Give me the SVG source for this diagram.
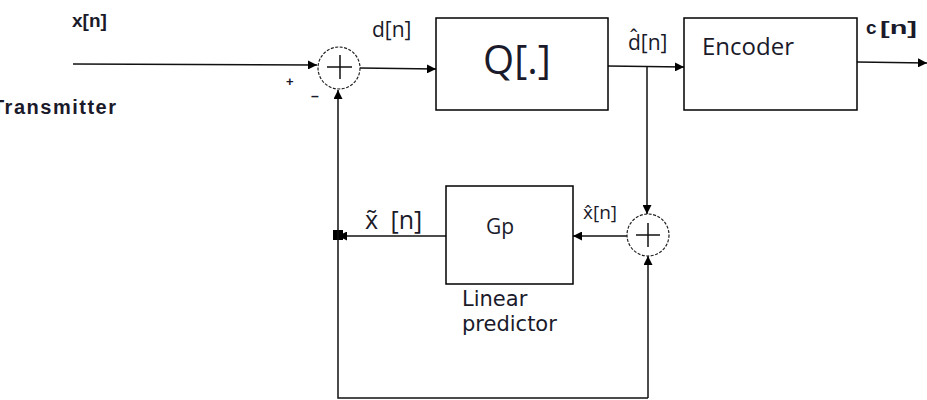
<svg xmlns="http://www.w3.org/2000/svg" width="927" height="400" viewBox="0 0 927 400">
<defs>
<marker id="arr" viewBox="0 0 10 10" refX="10" refY="5" markerWidth="9" markerHeight="9" markerUnits="userSpaceOnUse" orient="auto"><path d="M0,0 L10,5 L0,10 z" fill="#000"/></marker>
</defs>
<style>
.box{fill:#fff;stroke:#000;stroke-width:1.5}
.sum{fill:#fff;stroke:#222;stroke-width:1.2;stroke-dasharray:3 1.5}
.ln{fill:none;stroke:#111;stroke-width:1.5}
.t{font-family:"Open Sans","Noto Sans",sans-serif;fill:#1a1a2a}
.v{font-family:"DejaVu Sans","Noto Sans",sans-serif;fill:#1a1a2a}
.b{font-family:"Liberation Sans",Arial,sans-serif;font-weight:bold;fill:#1a1a2a}
</style>
<rect width="927" height="400" fill="#fff"/>
<g id="connectors">
<line class="ln" x1="73" y1="64" x2="317" y2="65" marker-end="url(#arr)"/>
<line class="ln" x1="360" y1="68" x2="436" y2="69" marker-end="url(#arr)"/>
<line class="ln" x1="608" y1="66" x2="684" y2="67" marker-end="url(#arr)"/>
<line class="ln" x1="857" y1="62" x2="927" y2="63" marker-end="url(#arr)"/>
<line class="ln" x1="647" y1="66" x2="647" y2="214" marker-end="url(#arr)"/>
<line class="ln" x1="627" y1="236" x2="573" y2="236" marker-end="url(#arr)"/>
<line class="ln" x1="452" y1="236" x2="338" y2="236" marker-end="url(#arr)"/>
<rect x="333" y="230" width="10" height="10" fill="#000"/>
<polyline class="ln" points="648,398 648,380 648,256" marker-end="url(#arr)"/>
<polyline class="ln" points="648,398 338,398 338,90" marker-end="url(#arr)"/>
</g>
<g id="sum1">
<circle class="sum" cx="339" cy="68" r="21"/>
<path class="ln" d="M327,67 H352 M340,55 V79"/>
<text class="b" x="286" y="86" font-size="13">+</text>
<text class="b" x="311" y="101" font-size="14">–</text>
</g>
<g id="quantizer">
<rect class="box" x="436" y="18" width="172" height="92"/>
<text class="t" x="517" y="74" font-size="40" text-anchor="middle">Q[.]</text>
</g>
<g id="encoder">
<rect class="box" x="684" y="18" width="173" height="92"/>
<text class="t" x="702" y="55" font-size="24">Encoder</text>
</g>
<g id="sum2">
<circle class="sum" cx="648" cy="235" r="21"/>
<path class="ln" d="M636,235 H660 M648,223 V247"/>
</g>
<g id="predictor">
<rect class="box" x="446" y="186" width="127" height="98"/>
<text class="t" x="500" y="234" font-size="21" text-anchor="middle">Gp</text>
<text class="v" x="462" y="306" font-size="21">Linear</text>
<text class="v" x="462" y="331" font-size="21">predictor</text>
</g>
<g id="labels">
<text class="b" x="72" y="27" font-size="19">x[n]</text>
<text class="b" x="-8" y="114" font-size="20" textLength="124" lengthAdjust="spacing">Transmitter</text>
<text class="t" x="372" y="37" font-size="21">d[n]</text>
<text class="t" x="628" y="50" font-size="21">d̂[n]</text>
<text class="b" x="866" y="34" font-size="19">c<tspan x="880" textLength="37" lengthAdjust="spacingAndGlyphs">[n]</tspan></text>
<text class="t" x="365" y="229" font-size="25">x̃ <tspan dx="6">[n]</tspan></text>
<text class="t" x="583" y="219" font-size="19">x̂[n]</text>
</g>
</svg>
